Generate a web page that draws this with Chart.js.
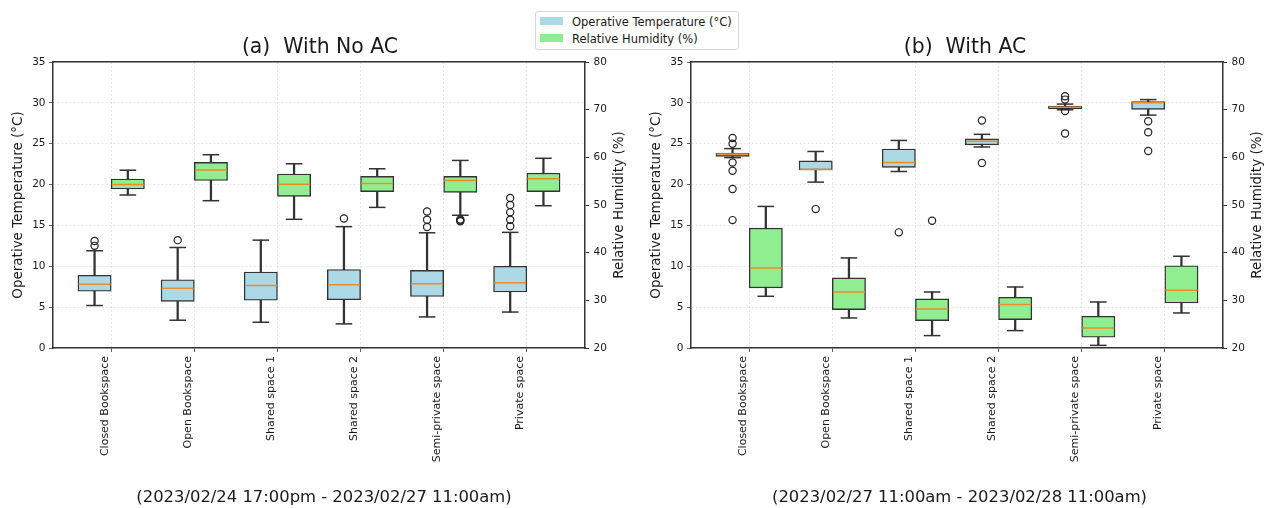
<!DOCTYPE html>
<html>
<head>
<meta charset="utf-8">
<script src="https://cdn.jsdelivr.net/npm/chart.js@4.4.1/dist/chart.umd.min.js"></script>
<style>
  body { margin: 0; background: #fff; width: 1267px; height: 508px; position: relative; overflow: hidden; font-family: "DejaVu Sans", sans-serif; }
  canvas { position: absolute; top: 0; }
  #chartA { left: 0; }
  #chartB { left: 634px; }
  #legend { position: absolute; left: 535px; top: 11px; width: 202px; height: 37px; border: 1px solid #d6d6d6; border-radius: 3px; background: #fff; font-size: 11.5px; color: #1a1a1a; }
  #legend .item { position: absolute; left: 4px; height: 14px; line-height: 14px; white-space: nowrap; }
  #legend .sw { display: inline-block; width: 23px; height: 8px; margin-right: 9px; vertical-align: 1px; }
</style>
</head>
<body>
<canvas id="chartA" width="634" height="508"></canvas>
<canvas id="chartB" width="633" height="508"></canvas>
<div id="legend">
  <div class="item" style="top:3px"><span class="sw" style="background:#add8e6"></span>Operative Temperature (°C)</div>
  <div class="item" style="top:20px"><span class="sw" style="background:#90ee90"></span>Relative Humidity (%)</div>
</div>
<script>
const spaces = ['Closed Bookspace', 'Open Bookspace', 'Shared space 1', 'Shared space 2', 'Semi-private space', 'Private space'];
const tempTicks = [0, 5, 10, 15, 20, 25, 30, 35];
const humTicks = [20, 30, 40, 50, 60, 70, 80];

// box stats per space: [lower whisker, Q1, median, Q3, upper whisker]
const noAcTemp = [
    [5.2, 6.95, 7.8, 8.9, 11.9],
    [3.4, 5.7, 7.3, 8.35, 12.3],
    [3.15, 5.85, 7.65, 9.3, 13.2],
    [2.95, 5.9, 7.75, 9.6, 14.85],
    [3.8, 6.3, 7.85, 9.5, 14.1],
    [4.4, 6.85, 8.0, 10.0, 14.15]
];
const noAcTempOut = [[12.5, 13.1], [13.2], [], [15.85], [14.8, 15.7, 16.7], [14.9, 15.7, 16.6, 17.5, 18.35]];
const noAcHum = [
    [52.1, 53.35, 54.3, 55.45, 57.3],
    [50.9, 55.15, 57.35, 58.95, 60.55],
    [47.0, 51.8, 54.35, 56.5, 58.65],
    [49.5, 52.8, 54.5, 56.0, 57.6],
    [47.85, 52.65, 55.15, 56.0, 59.35],
    [49.85, 52.8, 55.5, 56.7, 59.8]
];
const noAcHumOut = [[], [], [], [], [46.6, 46.75, 46.95], []];

const acTemp = [
    [23.3, 23.45, 23.75, 23.85, 24.4],
    [20.3, 21.8, 21.85, 22.9, 24.05],
    [21.6, 22.1, 22.7, 24.35, 25.4],
    [24.6, 24.85, 25.3, 25.6, 26.15],
    [29.15, 29.3, 29.45, 29.6, 29.85],
    [28.5, 29.2, 30.0, 30.15, 30.4]
];
const acTempOut = [[15.65, 19.45, 21.7, 22.7, 25.0, 25.7], [17.0], [14.15], [22.65, 27.85], [26.25, 29.0, 30.4, 30.8], [24.1, 26.4, 27.75]];
const acHum = [
    [30.85, 32.6, 36.8, 45.15, 49.7],
    [26.3, 28.05, 31.75, 34.7, 38.9],
    [22.6, 25.75, 28.2, 30.3, 31.75],
    [23.65, 25.95, 29.1, 30.65, 32.8],
    [20.55, 22.25, 24.2, 26.65, 29.65],
    [27.35, 29.45, 32.1, 37.25, 39.25]
];
const acHumOut = [[], [], [46.7], [], [], []];

const BLUE = '#add8e6';
const GREEN = '#90ee90';
const EDGE = '#333333';
const TEXT = '#1a1a1a';
const GRID = 'rgba(0,0,0,0.12)';

Chart.defaults.font.family = '"DejaVu Sans", sans-serif';
Chart.defaults.color = TEXT;

function boxDatasets(stats, outliers, shift, axis, fill) {
    const xs = stats.map((s, i) => i + 1 + shift);
    return [
        // whisker
        { type: 'bar', yAxisID: axis, order: 6, grouped: false, barPercentage: 1, categoryPercentage: 1,
          maxBarThickness: 1.6, backgroundColor: EDGE, borderWidth: 0,
          data: stats.map((s, i) => ({ x: xs[i], y: [s[0], s[4]] })) },
        // box
        { type: 'bar', yAxisID: axis, order: 5, grouped: false, barPercentage: 1, categoryPercentage: 1,
          backgroundColor: fill, borderColor: EDGE, borderWidth: 1.4, borderSkipped: false,
          data: stats.map((s, i) => ({ x: xs[i], y: [s[1], s[3]] })) },
        // caps
        { type: 'scatter', yAxisID: axis, order: 3, pointStyle: 'line', pointRadius: 8.3,
          pointBorderColor: EDGE, pointBorderWidth: 1.5,
          data: stats.flatMap((s, i) => [{ x: xs[i], y: s[0] }, { x: xs[i], y: s[4] }]) },
        // median
        { type: 'scatter', yAxisID: axis, order: 1, pointStyle: 'line', pointRadius: 16,
          pointBorderColor: '#f08a24', pointBorderWidth: 1.5,
          data: stats.map((s, i) => ({ x: xs[i], y: s[2] })) },
        // fliers
        { type: 'scatter', yAxisID: axis, order: 2, pointStyle: 'circle', pointRadius: 3.6,
          pointBorderColor: '#222', pointBackgroundColor: 'rgba(0,0,0,0)', pointBorderWidth: 1.2,
          data: outliers.flatMap((o, i) => o.map(v => ({ x: xs[i], y: v }))) }
    ];
}

const panelText = {
    id: 'panelText',
    afterDraw(chart, args, opts) {
        const { ctx, chartArea } = chart;
        const cx = (chartArea.left + chartArea.right) / 2;
        ctx.save();
        ctx.fillStyle = TEXT;
        ctx.textAlign = 'center';
        ctx.textBaseline = 'middle';
        ctx.font = '20.4px "DejaVu Sans"';
        ctx.fillText(opts.title, cx + opts.titleDx, 48);
        ctx.font = '16.4px "DejaVu Sans"';
        ctx.fillText(opts.range, cx + opts.rangeDx, 498);
        // right axis label, reading upwards like the left one
        const y1 = chart.scales.y1;
        ctx.translate(y1.left + 34.5, (chartArea.top + chartArea.bottom) / 2);
        ctx.rotate(-Math.PI / 2);
        ctx.font = '13.5px "DejaVu Sans"';
        ctx.fillText('Relative Humidity (%)', 0, 0);
        ctx.restore();
    }
};

function makeChart(id, p) {
    return new Chart(document.getElementById(id), {
        type: 'bar',
        data: {
            datasets: [
                ...boxDatasets(p.temp, p.tempOut, -0.2, 'y', BLUE),
                ...boxDatasets(p.hum, p.humOut, 0.2, 'y1', GREEN)
            ]
        },
        options: {
            responsive: false,
            animation: false,
            events: [],
            layout: { padding: { top: 62 } },
            plugins: {
                legend: { display: false },
                tooltip: { enabled: false },
                panelText: { title: p.title, range: p.range, titleDx: p.titleDx, rangeDx: p.rangeDx }
            },
            scales: {
                x: {
                    type: 'linear', min: 0.3, max: 6.7, offset: false,
                    afterBuildTicks: s => { s.ticks = spaces.map((_, i) => ({ value: i + 1 })); },
                    afterFit: s => { s.height = 160; },
                    ticks: { autoSkip: false, minRotation: 90, maxRotation: 90, labelOffset: -6.5, padding: 4,
                             font: { size: 11 }, callback: v => spaces[v - 1] },
                    grid: { offset: false, color: GRID, lineWidth: 0.8, tickColor: EDGE, tickLength: 4 },
                    border: { color: EDGE, width: 1.5, dash: [2, 2] }
                },
                xt: {
                    type: 'linear', position: 'top', min: 0.3, max: 6.7,
                    ticks: { display: false },
                    grid: { display: false, drawTicks: false },
                    border: { color: EDGE, width: 1.5 },
                    afterFit: s => { s.height = 0; }
                },
                y: {
                    position: 'left', min: 0, max: 35,
                    afterBuildTicks: s => { s.ticks = tempTicks.map(v => ({ value: v })); },
                    afterFit: s => { s.width = p.yWidth; },
                    ticks: { padding: 3.5, font: { size: 10.5 } },
                    grid: { color: GRID, lineWidth: 0.8, tickColor: EDGE, tickLength: 4 },
                    border: { color: EDGE, width: 1.5, dash: [2, 2] },
                    title: { display: true, text: 'Operative Temperature (°C)', font: { size: 13.5 },
                             padding: { top: p.yWidth - 34.6 - 8.1 } }
                },
                y1: {
                    position: 'right', min: 20, max: 80,
                    afterBuildTicks: s => { s.ticks = humTicks.map(v => ({ value: v })); },
                    afterFit: s => { s.width = p.y1Width; },
                    ticks: { padding: 4.5, font: { size: 10.5 } },
                    grid: { drawOnChartArea: false, tickColor: EDGE, tickLength: 4 },
                    border: { color: EDGE, width: 1.5 }
                }
            }
        },
        plugins: [panelText]
    });
}

makeChart('chartA', {
    temp: noAcTemp, tempOut: noAcTempOut, hum: noAcHum, humOut: noAcHumOut,
    title: '(a)  With No AC', range: '(2023/02/24 17:00pm - 2023/02/27 11:00am)',
    titleDx: 1, rangeDx: 5, yWidth: 53, y1Width: 49
});
makeChart('chartB', {
    temp: acTemp, tempOut: acTempOut, hum: acHum, humOut: acHumOut,
    title: '(b)  With AC', range: '(2023/02/27 11:00am - 2023/02/28 11:00am)',
    titleDx: 8, rangeDx: 2.5, yWidth: 57, y1Width: 44
});
</script>
</body>
</html>
